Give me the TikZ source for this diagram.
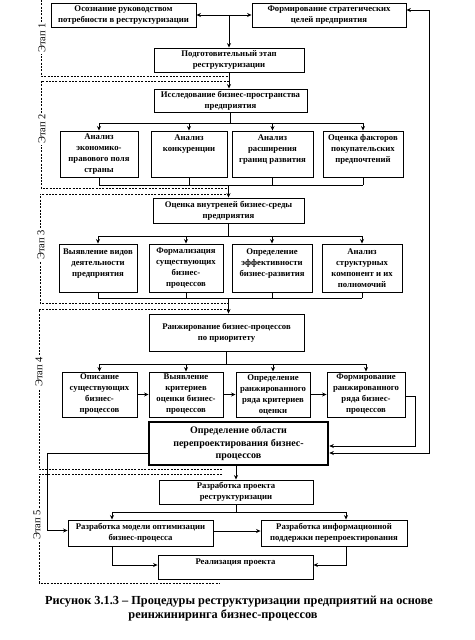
\documentclass[tikz,border=0pt]{standalone}
\usepackage{fontspec}
\setmainfont{Liberation Serif}
\usetikzlibrary{arrows.meta,calc}
\begin{document}
\begin{tikzpicture}[x=1pt,y=-1pt,
  box/.style={draw,line width=0.9pt,align=center,inner sep=0pt,font=\fontsize{8.7}{11}\selectfont\bfseries},
  arr/.style={-{Stealth[length=4.5pt,width=4pt]}},
  darr/.style={{Stealth[length=4.5pt,width=4pt]}-{Stealth[length=4.5pt,width=4pt]}},
  ln/.style={line width=0.8pt},
  stg/.style={line width=0.9pt,dash pattern=on 2pt off 1.3pt},
  lab/.style={rotate=90,fill=white,inner sep=1pt,font=\fontsize{10.5}{11}\selectfont},
  captxt/.style={inner sep=0pt,font=\fontsize{12.3}{13}\selectfont\bfseries}]
\useasboundingbox (0,0) rectangle (474,640);
\newcommand\bx[7][]{%
 \pgfmathsetmacro\myBW{#5-#3}\pgfmathsetmacro\myBH{#6-#4}%
 \pgfmathsetmacro\myCX{(#3+#5)/2}\pgfmathsetmacro\myCY{(#4+#6)/2}%
 \node[box,minimum width=\myBW pt,minimum height=\myBH pt,#1] (#2) at (\myCX,\myCY) {#7};}
% boxes
\bx{a1}{51}{3}{196}{27}{Осознание руководством\\потребности в реструктуризации}
\bx{a2}{252}{3}{406}{27}{Формирование стратегических\\целей предприятия}
\bx{prep}{154}{48}{304}{72}{Подготовительный этап\\реструктуризации}
\bx{res}{154}{89}{307}{112}{Исследование бизнес-пространства\\предприятия}
\bx{b1}{60}{131}{138}{177}{Анализ\\экономико-\\правового поля\\страны}
\bx{b2}{151}{131}{227}{177}{Анализ\\конкуренции\\~\\~}
\bx{b3}{232}{131}{313}{177}{Анализ\\расширения\\границ развития\\~}
\bx{b4}{323}{131}{403}{177}{Оценка факторов\\покупательских\\предпочтений\\~}
\bx{c0}{153}{198}{304}{223}{Оценка внутреней бизнес-среды\\предприятия}
\bx{c1}{59}{244}{137}{292}{Выявление видов\\деятельности\\предприятия\\~}
\bx{c2}{149}{244}{223}{292}{Формализация\\существующих\\бизнес-\\процессов}
\bx{c3}{232}{244}{312}{292}{Определение\\эффективности\\бизнес-развития\\~}
\bx{c4}{322}{244}{402}{292}{Анализ\\структурных\\компонент и их\\полномочий}
\bx{d0}{149}{314}{304}{351}{Ранжирование бизнес-процессов\\по приоритету}
\bx{e1}{62}{372}{137}{417}{Описание\\существующих\\бизнес-\\процессов}
\bx{e2}{149}{372}{223}{417}{Выявление\\критериев\\оценки бизнес-\\процессов}
\bx{e3}{236}{372}{310}{417}{Определение\\ранжированного\\ряда критериев\\оценки}
\bx{e4}{327}{372}{405}{417}{Формирование\\ранжированного\\ряда бизнес-\\процессов}
\bx[line width=2.6pt,font=\fontsize{10}{12.8}\selectfont\bfseries]{f}{149}{422}{328}{465}{Определение области\\перепроектирования бизнес-\\процессов}
\bx{h0}{159}{480}{313}{504}{Разработка проекта\\реструктуризации}
\bx{g1}{68}{520}{213}{546}{Разработка модели оптимизации\\бизнес-процесса}
\bx{g2}{261}{520}{407}{546}{Разработка информационной\\поддержки перепроектирования}
\bx{real}{158}{555}{313}{579}{Реализация проекта\\~}
% stage 1
\draw[ln,darr] (a1.east) -- (a2.west);
\coordinate (j1) at (prep.north |- a1.east);
\draw[ln,arr] (j1) -- (prep.north);
\draw[ln,arr] (prep.south) -- (prep.south |- res.north);
% stage 2
\coordinate (bus1) at (0,123);
\coordinate (bus2) at (0,185);
\draw[ln] (res.south) -- (res.south |- bus1);
\draw[ln] (b1.north |- bus1) -- (b4.north |- bus1);
\foreach \n in {b1,b2,b3,b4}{
  \draw[ln,arr] (\n.north |- bus1) -- (\n.north);
  \draw[ln] (\n.south) -- (\n.south |- bus2);}
\draw[ln] (b1.south |- bus2) -- (b4.south |- bus2);
\draw[ln,arr] (c0.north |- bus2) -- (c0.north);
% stage 3
\coordinate (bus3) at (0,236);
\coordinate (bus4) at (0,298);
\draw[ln] (c0.south) -- (c0.south |- bus3);
\draw[ln] (c1.north |- bus3) -- (c4.north |- bus3);
\foreach \n in {c1,c2,c3,c4}{
  \draw[ln,arr] (\n.north |- bus3) -- (\n.north);
  \draw[ln] (\n.south) -- (\n.south |- bus4);}
\draw[ln] (c1.south |- bus4) -- (c4.south |- bus4);
\draw[ln,arr] (c0.south |- bus4) -- (c0.south |- d0.north);
% stage 4
\coordinate (bus5) at (0,364);
\draw[ln] (d0.south) -- (d0.south |- bus5);
\draw[ln] (e1.north |- bus5) -- (e4.north |- bus5);
\foreach \n in {e1,e2,e3,e4}{
  \draw[ln,arr] (\n.north |- bus5) -- (\n.north);}
\draw[ln,arr] (e1.east) -- (e2.west);
\draw[ln,arr] (e2.east) -- (e3.west);
\draw[ln,arr] (e3.east) -- (e4.west);
\draw[ln,arr] ([yshift=-1.5pt]e4.east) -- ++(10,0) |- ([yshift=-2.5pt]f.east);
\coordinate (R) at (429,10);
\draw[ln,darr] ([yshift=-9.5pt]f.east) -| (R) -- ([yshift=5pt]a2.east);
\coordinate (L) at (47,530.5);
\draw[ln,arr] ([yshift=-9.5pt]f.west) -| (L) -- ([yshift=2.5pt]g1.west);
% stage 5
\draw[ln,arr] (h0.north |- f.south) -- (h0.north);
\coordinate (k1) at (112,512);
\coordinate (k2) at (346,512);
\draw[ln] (h0.south) -- (h0.south |- k1);
\draw[ln] (k1) -- (k2);
\draw[ln,arr] (k1) -- (k1 |- g1.north);
\draw[ln,arr] (k2) -- (k2 |- g2.north);
\draw[ln,arr] ([yshift=2pt]g1.east) -- ([yshift=2pt]g2.west);
\draw[ln,arr] (k1 |- g1.south) |- ([yshift=2pt]real.west);
\draw[ln,arr] (k2 |- g2.south) |- ([yshift=2pt]real.east);
% stage frames
\draw[stg] (41,0) -- (41,76) -- (229,76);
\draw[stg] (229,81) -- (41,81) -- (41,188) -- (229,188);
\draw[stg] (229,194) -- (40,194) -- (40,303) -- (229,303);
\draw[stg] (229,309) -- (39,309) -- (39,469) -- (222,469);
\draw[stg] (222,474) -- (39,474) -- (39,583) -- (220,583);
\node[lab] (s1) at (42,38) {Этап 1};
\node[lab] (s2) at (42,129) {Этап 2};
\node[lab] (s3) at (41,245) {Этап 3};
\node[lab] (s4) at (39,372) {Этап 4};
\node[lab] (s5) at (37,525) {Этап 5};
% caption
\node[captxt] (cap1) at (239,602) {Рисунок 3.1.3 – Процедуры реструктуризации предприятий на основе};
\node[captxt] (cap2) at (223,615) {реинжиниринга бизнес-процессов};
\end{tikzpicture}
\end{document}
